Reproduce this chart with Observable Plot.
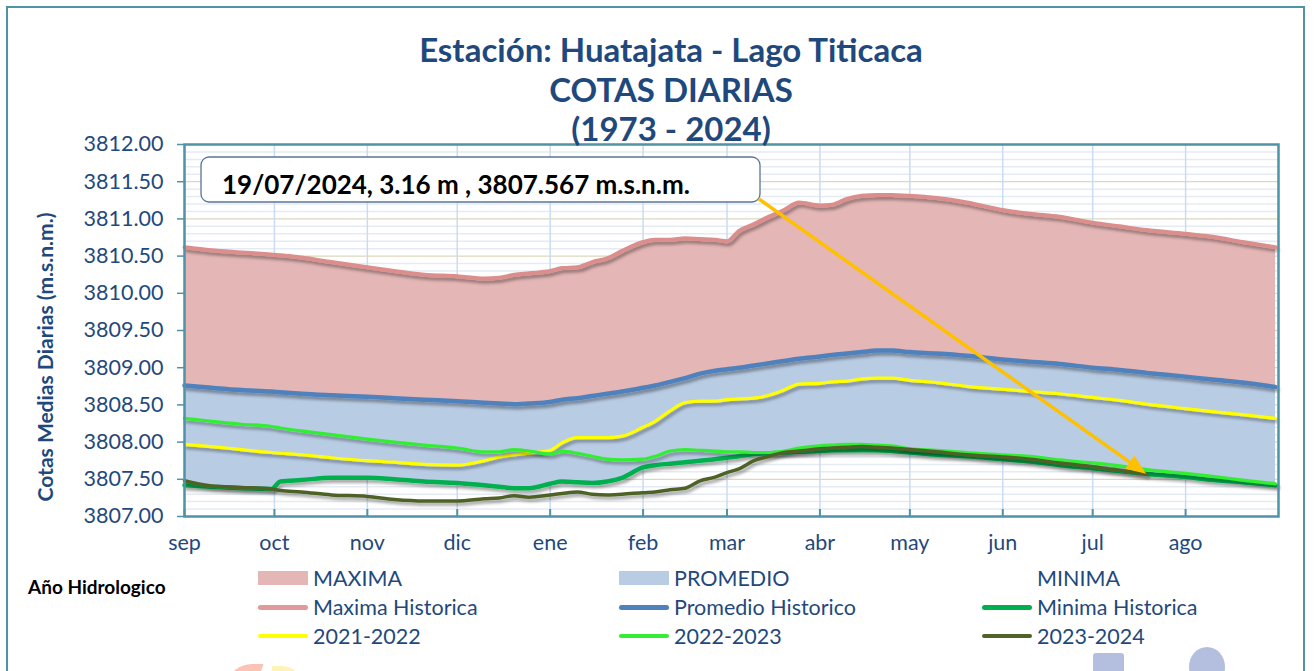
<!DOCTYPE html>
<html>
<head>
<meta charset="utf-8">
<script src="https://cdn.jsdelivr.net/npm/d3@7"></script>
<script src="https://cdn.jsdelivr.net/npm/@observablehq/plot@0.6"></script>
<style>
  html, body { margin: 0; padding: 0; background: #fff; }
  #wrap { position: relative; width: 1316px; height: 671px; overflow: hidden; background: #fff;
          font-family: Lato, "Open Sans", sans-serif; }
  #border { position: absolute; left: 6px; top: 6px; width: 1299px; height: 720px; border: 2px solid #4e93a6; box-sizing: border-box; }
  .title { position: absolute; left: 0; width: 1342px; text-align: center; color: #1f497d; font-weight: bold;
           font-size: 33px; line-height: 33px; white-space: nowrap; z-index: 3; }
  #chart { position: absolute; left: 0; top: 130px; z-index: 2; }
  #ylabel { position: absolute; left: 45px; top: 357px; width: 0; height: 0; }
  #ylabel span { position: absolute; left: 0; top: 0; transform: translate(-50%, -50%) rotate(-90deg);
            color: #1f497d; font-weight: bold; font-size: 21px; line-height: 24px; white-space: nowrap; }
  #anio { position: absolute; left: 28px; top: 575px; font-weight: bold; font-size: 19px; color: #000; }
  .leg { position: absolute; height: 26px; display: flex; align-items: center; color: #1f497d; font-size: 21.5px; white-space: nowrap; }
  .sw { width: 50px; margin-right: 5px; flex: none; }
  .deco { position: absolute; background: #b4bfe0; }
</style>
</head>
<body>
<div id="wrap">
  <div id="border"></div>
  <div class="title" style="top:33px">Estación: Huatajata - Lago Titicaca</div>
  <div class="title" style="top:73px">COTAS DIARIAS</div>
  <div class="title" style="top:112px">(1973 - 2024)</div>
  <div id="chart"></div>
  <div id="ylabel"><span>Cotas Medias Diarias (m.s.n.m.)</span></div>
  <div id="anio">Año Hidrologico</div>
  <div id="legend"></div>
  <div class="deco" style="left:1093px;top:653px;width:31px;height:24px;border-radius:3px"></div>
  <div class="deco" style="left:1189px;top:647px;width:36px;height:40px;border-radius:50%"></div>
  <div style="position:absolute;left:228px;top:664px;width:32px;height:20px;background:#fbc3b5;border-radius:30px 0 0 0;transform:skewX(-20deg)"></div>
  <div style="position:absolute;left:272px;top:666px;width:30px;height:20px;background:#fff3b8;border-radius:0 30px 0 0"></div>
</div>
<script>
// ---------- data ----------
const dates = [
  "2022-09-01","2022-09-10","2022-09-20","2022-09-30",
  "2022-10-03","2022-10-10","2022-10-20",
  "2022-11-01","2022-11-10","2022-11-20",
  "2022-12-01","2022-12-10","2022-12-15","2022-12-20","2022-12-25",
  "2023-01-01","2023-01-05","2023-01-10","2023-01-15","2023-01-20","2023-01-25",
  "2023-02-01","2023-02-05","2023-02-10","2023-02-15","2023-02-20","2023-02-25",
  "2023-03-01","2023-03-05","2023-03-10","2023-03-15","2023-03-20","2023-03-25",
  "2023-04-01","2023-04-05","2023-04-10","2023-04-15","2023-04-20","2023-04-25",
  "2023-05-01","2023-05-10","2023-05-20",
  "2023-06-01","2023-06-10","2023-06-20",
  "2023-07-01","2023-07-10","2023-07-19",
  "2023-08-01","2023-08-10","2023-08-20","2023-08-31"
];
const maxHist = [
  3810.62,3810.58,3810.55,3810.52,
  3810.51,3810.48,3810.42,
  3810.35,3810.30,3810.25,
  3810.23,3810.20,3810.21,3810.25,3810.27,
  3810.30,3810.34,3810.35,3810.42,3810.47,3810.57,
  3810.69,3810.72,3810.72,3810.74,3810.73,3810.72,
  3810.70,3810.84,3810.93,3811.03,3811.12,3811.22,
  3811.18,3811.19,3811.27,3811.31,3811.32,3811.32,
  3811.31,3811.28,3811.22,
  3811.12,3811.07,3811.03,
  3810.95,3810.90,3810.85,
  3810.80,3810.76,3810.69,3810.62
];
const promHist = [
  3808.76,3808.73,3808.70,3808.68,
  3808.67,3808.65,3808.63,
  3808.61,3808.59,3808.57,
  3808.55,3808.53,3808.52,3808.51,3808.52,
  3808.54,3808.57,3808.59,3808.62,3808.65,3808.68,
  3808.73,3808.76,3808.81,3808.86,3808.92,3808.96,
  3808.98,3809.00,3809.03,3809.06,3809.09,3809.12,
  3809.15,3809.17,3809.19,3809.21,3809.23,3809.23,
  3809.21,3809.19,3809.16,
  3809.11,3809.08,3809.05,
  3809.00,3808.97,3808.93,
  3808.88,3808.84,3808.80,3808.74
];
const minHist = [
  3807.42,3807.40,3807.38,3807.37,
  3807.47,3807.49,3807.52,
  3807.52,3807.50,3807.47,
  3807.45,3807.42,3807.40,3807.38,3807.38,
  3807.44,3807.47,3807.46,3807.45,3807.47,3807.52,
  3807.66,3807.69,3807.71,3807.73,3807.75,3807.77,
  3807.79,3807.81,3807.84,3807.85,3807.86,3807.87,
  3807.88,3807.89,3807.89,3807.89,3807.89,3807.88,
  3807.86,3807.83,3807.81,
  3807.77,3807.74,3807.69,
  3807.65,3807.61,3807.57,
  3807.53,3807.49,3807.46,3807.42
];
const y2021_2022 = [
  3807.97,3807.94,3807.90,3807.86,
  3807.85,3807.83,3807.79,
  3807.75,3807.73,3807.70,
  3807.69,3807.75,3807.80,3807.83,3807.85,
  3807.89,3807.99,3808.06,3808.06,3808.06,3808.08,
  3808.20,3808.28,3808.42,3808.53,3808.55,3808.55,
  3808.57,3808.58,3808.59,3808.63,3808.70,3808.78,
  3808.79,3808.81,3808.82,3808.85,3808.86,3808.86,
  3808.83,3808.80,3808.75,
  3808.71,3808.68,3808.65,
  3808.60,3808.56,3808.51,
  3808.45,3808.41,3808.37,3808.32
];
const y2022_2023 = [
  3808.32,3808.28,3808.24,3808.21,
  3808.19,3808.15,3808.10,
  3808.04,3808.00,3807.96,
  3807.92,3807.87,3807.87,3807.90,3807.88,
  3807.84,3807.88,3807.85,3807.81,3807.77,3807.76,
  3807.77,3807.81,3807.88,3807.90,3807.89,3807.88,
  3807.87,3807.87,3807.86,3807.86,3807.88,3807.92,
  3807.95,3807.96,3807.97,3807.97,3807.96,3807.95,
  3807.91,3807.89,3807.86,
  3807.83,3807.81,3807.76,
  3807.72,3807.68,3807.63,
  3807.58,3807.54,3807.49,3807.44
];
const y2023_2024 = [
  3807.48,3807.41,3807.39,3807.37,
  3807.35,3807.33,3807.29,
  3807.27,3807.23,3807.21,
  3807.21,3807.24,3807.25,3807.28,3807.26,
  3807.29,3807.31,3807.33,3807.30,3807.29,3807.30,
  3807.32,3807.33,3807.36,3807.38,3807.48,3807.53,
  3807.59,3807.64,3807.75,3807.81,3807.86,3807.88,
  3807.91,3807.92,3807.93,3807.94,3807.93,3807.92,
  3807.90,3807.87,3807.83,
  3807.80,3807.77,3807.72,
  3807.67,3807.62,3807.567
];
const monthLabels = ["sep","oct","nov","dic","ene","feb","mar","abr","may","jun","jul","ago"];
const yTicks = [3807.0,3807.5,3808.0,3808.5,3809.0,3809.5,3810.0,3810.5,3811.0,3811.5,3812.0];
const yearStart = "2022-09-01", yearEnd = "2023-09-01";
const lastDate = "2023-07-19", lastValue = 3807.567;
const annotationText = "19/07/2024, 3.16 m , 3807.567 m.s.n.m.";

const legendItems = [
  {label: "MAXIMA", kind: "area", color: "#e4b6b5"},
  {label: "PROMEDIO", kind: "area", color: "#b8cce4"},
  {label: "MINIMA", kind: "area", color: "#ffffff"},
  {label: "Maxima Historica", kind: "line", color: "#df9a99", w: 5},
  {label: "Promedio Historico", kind: "line", color: "#4f81bd", w: 5},
  {label: "Minima Historica", kind: "line", color: "#00b050", w: 5},
  {label: "2021-2022", kind: "line", color: "#ffff00", w: 4},
  {label: "2022-2023", kind: "line", color: "#33ee33", w: 4},
  {label: "2023-2024", kind: "line", color: "#4f6228", w: 4}
];

// ---------- build ----------
const parse = d3.utcParse("%Y-%m-%d");
const rows = dates.map((d, i) => ({
  date: parse(d), max: maxHist[i], prom: promHist[i], min: minHist[i],
  a: y2021_2022[i], b: y2022_2023[i], c: i < y2023_2024.length ? y2023_2024[i] : NaN
}));
const monthStarts = d3.utcMonth.range(parse(yearStart), parse(yearEnd));
const minorGrid = d3.range(1, 50).filter(k => k % 5 !== 0).map(k => 3807 + k / 10);
const teal = "#4e93a6";
const curve = "monotone-x";
const monthName = d => monthLabels[(d.getUTCMonth() + 4) % 12];

const plot = Plot.plot({
  width: 1316, height: 440,
  marginLeft: 184, marginRight: 38, marginTop: 14, marginBottom: 54,
  style: {fontFamily: "Lato, 'Open Sans', sans-serif", fontSize: "21.5px", color: "#1f497d", background: "transparent", overflow: "visible"},
  x: {type: "utc", domain: [parse(yearStart), parse(yearEnd)]},
  y: {domain: [yTicks[0], yTicks[yTicks.length - 1]]},
  marks: [
    Plot.ruleY(minorGrid, {stroke: "#e4ebf4", strokeWidth: 1.5}),
    Plot.ruleY(yTicks.slice(1, -1), {stroke: "#ddd7c2", strokeWidth: 1.3}),
    Plot.ruleX(monthStarts.slice(1), {stroke: "#cadcf1", strokeWidth: 1.5}),
    Plot.areaY(rows, {x: "date", y1: "prom", y2: "max", fill: "#e4b6b5", curve}),
    Plot.areaY(rows, {x: "date", y1: "min", y2: "prom", fill: "#b8cce4", curve}),
    Plot.lineY(rows, {x: "date", y: "max", stroke: "#dc8e8d", strokeWidth: 4, curve}),
    Plot.lineY(rows, {x: "date", y: "prom", stroke: "#4f81bd", strokeWidth: 4.5, curve}),
    Plot.lineY(rows, {x: "date", y: "min", stroke: "#00b050", strokeWidth: 4.5, curve}),
    Plot.lineY(rows, {x: "date", y: "a", stroke: "#ffff00", strokeWidth: 3.2, curve}),
    Plot.lineY(rows, {x: "date", y: "b", stroke: "#33ee33", strokeWidth: 3.2, curve}),
    Plot.lineY(rows, {x: "date", y: "c", stroke: "#4f6228", strokeWidth: 3.5, curve}),
    Plot.axisY({ticks: yTicks, tickFormat: d3.format(".2f"), tickSize: 7, tickPadding: 14, stroke: teal, strokeWidth: 1.5, label: null}),
    Plot.axisX({ticks: monthStarts, tickFormat: monthName, tickSize: 0, tickPadding: 18, label: null}),
    Plot.ruleX(monthStarts, {stroke: teal, strokeWidth: 2, insetTop: 365}),
    Plot.frame({stroke: teal, strokeWidth: 2.5})
  ]
});
document.getElementById("chart").appendChild(plot);

// shadows on lines
const svg = d3.select(plot);
const defs = svg.insert("defs", ":first-child");
const f = defs.append("filter").attr("id", "shadow").attr("x", "-5%").attr("y", "-30%").attr("width", "110%").attr("height", "160%");
f.append("feDropShadow").attr("dx", 2).attr("dy", 3).attr("stdDeviation", 1.8).attr("flood-color", "#000").attr("flood-opacity", 0.35);
svg.selectAll('g[aria-label="line"]').attr("filter", "url(#shadow)");

// annotation box + arrow
const sx = plot.scale("x"), sy = plot.scale("y");
const ex = sx.apply(parse(lastDate)), ey = sy.apply(lastValue);
const box = {x: 201, y: 27, w: 559, h: 45};
const ann = svg.append("g").attr("text-anchor", "start");
ann.append("rect").attr("x", box.x).attr("y", box.y).attr("width", box.w).attr("height", box.h)
  .attr("rx", 8).attr("fill", "#fff").attr("stroke", "#5b7596").attr("stroke-width", 1.3);
ann.append("text").attr("x", 222).attr("y", 64).attr("text-anchor", "start").attr("fill", "#000").attr("font-weight", "bold")
  .attr("font-size", "26px").text(annotationText);
const s = {x: box.x + box.w - 1, y: box.y + box.h - 3};
const dx = ex - s.x, dy = ey - s.y, L = Math.hypot(dx, dy), ux = dx / L, uy = dy / L, nx = -uy, ny = ux;
const head = 20, half = 8;
ann.append("line").attr("x1", s.x).attr("y1", s.y).attr("x2", ex - ux * (head - 2)).attr("y2", ey - uy * (head - 2))
  .attr("stroke", "#ffc000").attr("stroke-width", 3.5);
ann.append("polygon").attr("fill", "#ffc000").attr("points", [
  [ex, ey], [ex - ux * head + nx * half, ey - uy * head + ny * half], [ex - ux * head - nx * half, ey - uy * head - ny * half]
].map(p => p.join(",")).join(" "));

// legend
const colX = [258, 619, 982], rowY = [565, 594, 623];
const legend = document.getElementById("legend");
legendItems.forEach((it, i) => {
  const el = document.createElement("div");
  el.className = "leg";
  el.style.left = colX[i % 3] + "px";
  el.style.top = rowY[Math.floor(i / 3)] + "px";
  const sw = document.createElement("div");
  sw.className = "sw";
  if (it.kind === "area") { sw.style.height = "14px"; sw.style.background = it.color; }
  else { sw.style.height = it.w + "px"; sw.style.background = it.color; sw.style.borderRadius = "3px"; }
  const tx = document.createElement("span");
  tx.textContent = it.label;
  el.appendChild(sw); el.appendChild(tx);
  legend.appendChild(el);
});
</script>
</body>
</html>
